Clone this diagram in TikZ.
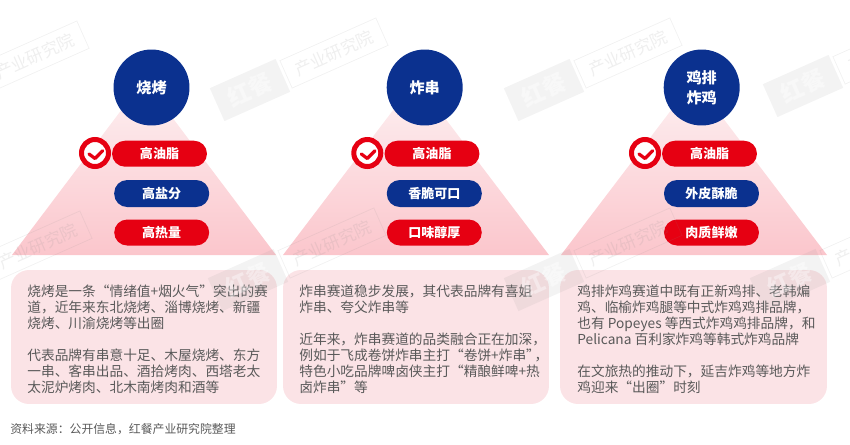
\documentclass[tikz,border=0pt]{standalone}
\usepackage{fontspec}
\usepackage{xcolor}
\setmainfont{Noto Sans CJK SC}
\definecolor{navy}{HTML}{0B318F}
\definecolor{hotred}{HTML}{E60012}
\definecolor{boxpink}{HTML}{FBE3E6}
\definecolor{trired}{HTML}{FBC6CC}
\definecolor{bodygrey}{HTML}{595959}
\definecolor{wmgrey}{HTML}{8C8C8C}
\tikzset{
	head/.style={circle,fill=navy,text=white,minimum size=1.52cm,inner sep=0pt,align=center,font=\fontsize{8.6}{11.3}\selectfont\bfseries},
	redpill/.style={rounded corners=.26cm,fill=hotred,text=white,minimum width=1.9cm,minimum height=.52cm,inner sep=0pt,font=\fontsize{7.4}{9}\selectfont\bfseries},
	bluepill/.style={redpill,fill=navy,minimum height=.54cm},
	badge/.style={circle,fill=white,draw=hotred,line width=.1cm,minimum size=.54cm,inner sep=0pt},
	tick/.style={draw=hotred,line width=.065cm,line cap=round,line join=round},
	tri/.style={top color=boxpink!50!white,bottom color=trired},
	textbox/.style={rounded corners=.36cm,fill=boxpink,minimum height=2.68cm,inner sep=0pt},
	body/.style={anchor=north west,align=left,inner sep=0pt,text=bodygrey,font=\fontsize{7.8}{9.07}\selectfont},
	wmblock/.style={rotate=24,fill=wmgrey,fill opacity=.1,text opacity=.4,text=white,minimum width=1.44cm,minimum height=.72cm,inner sep=0pt,font=\fontsize{13}{14}\selectfont\bfseries},
	wmframe/.style={rotate=24,draw=wmgrey,draw opacity=.12,text=wmgrey,text opacity=.14,minimum width=2.1cm,minimum height=.6cm,inner sep=0pt,font=\fontsize{9.6}{11}\selectfont},
}
\begin{document}
\begin{tikzpicture}[x=.02cm,y=-.02cm]
	\useasboundingbox (0,0) rectangle (850,444);
	% triangles
	\shade[tri] (144,80) -- (276,255) -- (12,255) -- cycle;
	\shade[tri] (416,80) -- (549,255) -- (283,255) -- cycle;
	\shade[tri] (694,80) -- (827,255) -- (561,255) -- cycle;
	% barbecue
	\node[head] (headA) at (151.5,87.5) {烧烤};
	\node[redpill] (fatA) at (159.5,153.7) {高油脂};
	\node[bluepill] (saltA) at (161.7,193.5) {高盐分};
	\node[redpill] (heatA) at (161.7,232.5) {高热量};
	\node[badge] (badgeA) at (95,153) {};
	\draw[tick] (89,154) -- (95,158.5) -- (102.7,150.7);
	\node[textbox,minimum width=5.32cm] (boxA) at (144,337) {};
	\node[body] (textA) at (27,285) {烧烤是一条“情绪值+烟火气”突出的赛\\道，近年来东北烧烤、淄博烧烤、新疆\\烧烤、川渝烧烤等出圈\\[9.07pt]代表品牌有串意十足、木屋烧烤、东方\\一串、客串出品、酒拾烤肉、西塔老太\\太泥炉烤肉、北木南烤肉和酒等};
	% fried skewers
	\node[head] (headB) at (424.7,87.5) {炸串};
	\node[redpill] (fatB) at (432,153.7) {高油脂};
	\node[bluepill] (crispB) at (434.3,193.5) {香脆可口};
	\node[redpill] (tasteB) at (434.3,232.5) {口味醇厚};
	\node[badge] (badgeB) at (367.3,153) {};
	\draw[tick] (361.3,154) -- (367.3,158.5) -- (375,150.7);
	\node[textbox,minimum width=5.32cm] (boxB) at (416,337) {};
	\node[body] (textB) at (299,285) {炸串赛道稳步发展，其代表品牌有喜姐\\炸串、夸父炸串等\\[9.07pt]近年来，炸串赛道的品类融合正在加深，\\例如于飞成卷饼炸串主打“卷饼+炸串”\kern-3pt，\\特色小吃品牌啤卤侠主打“精酿鲜啤+热\\卤炸串”等};
	% fried chicken
	\node[head] (headC) at (701.7,87.5) {鸡排\\炸鸡};
	\node[redpill] (fatC) at (709.5,153.7) {高油脂};
	\node[bluepill] (crispC) at (711.5,193.5) {外皮酥脆};
	\node[redpill] (meatC) at (711.5,232.5) {肉质鲜嫩};
	\node[badge] (badgeC) at (645,153) {};
	\draw[tick] (639,154) -- (645,158.5) -- (652.7,150.7);
	\node[textbox,minimum width=5.34cm] (boxC) at (693.5,337) {};
	\node[body] (textC) at (577,285) {鸡排炸鸡赛道中既有正新鸡排、老韩煸\\鸡、临榆炸鸡腿等中式炸鸡鸡排品牌，\\也有 Popeyes 等西式炸鸡鸡排品牌，和\\Pelicana 百利家炸鸡等韩式炸鸡品牌\\[9.07pt]在文旅热的推动下，延吉炸鸡等地方炸\\鸡迎来“出圈”时刻};
	% source line
	\node[anchor=west,inner sep=0pt,text=bodygrey,font=\fontsize{6.75}{8}\selectfont] (source) at (10,429) {资料来源：公开信息，红餐产业研究院整理};
	% watermarks
	\foreach \wx/\wy/\wn in {-49/93/a,250/90/b,544/90/c,803/86/d,-46/283/e,248/280/f,544/280/g,790/280/h}{
		\node[wmblock] (block\wn) at (\wx,\wy) {红餐};
		\node[wmframe] (frame\wn) at (\wx+84,\wy-37) {产业研究院};
	}
\end{tikzpicture}
\end{document}
